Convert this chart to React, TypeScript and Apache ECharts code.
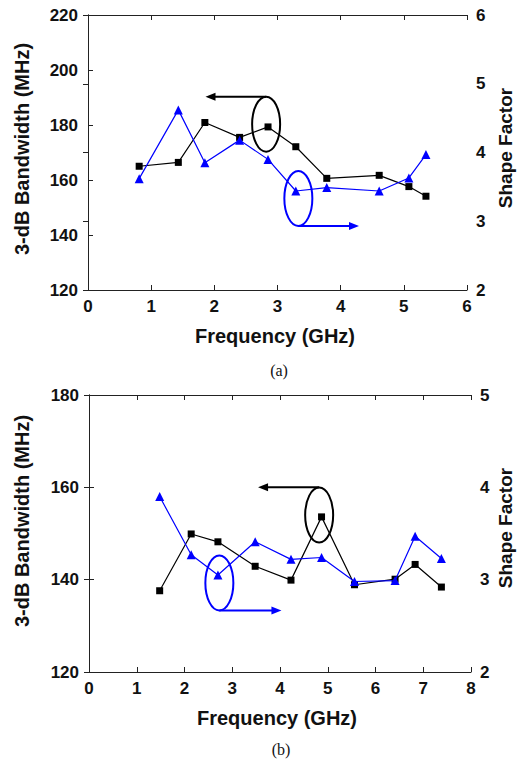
import React, { useEffect, useRef } from "react";
import * as echarts from "echarts";

// ---- Data: chart (a) ----
const freqA = [0.81, 1.43, 1.85, 2.4, 2.85, 3.29, 3.78, 4.61, 5.08, 5.35];
const bwA = [165.0, 166.4, 180.9, 175.5, 179.3, 172.1, 160.6, 161.7, 157.6, 154.1];
const sfA = [3.62, 4.62, 3.85, 4.18, 3.9, 3.44, 3.49, 3.44, 3.63, 3.97];

// ---- Data: chart (b) ----
const freqB = [1.48, 2.14, 2.7, 3.48, 4.23, 4.87, 5.56, 6.41, 6.83, 7.38];
const bwB = [137.6, 149.9, 148.2, 142.9, 139.9, 153.6, 138.9, 140.1, 143.3, 138.4];
const sfB = [3.9, 3.27, 3.05, 3.41, 3.22, 3.24, 2.98, 2.99, 3.47, 3.23];

// Annotation anchors in data coordinates (left-axis units): ellipse center, arrow y, arrow tip x
const annA = {
  black: { cx: 2.82, cy: 180.3, ay: 190.3, tip: 1.86 },
  blue: { cx: 3.33, cy: 153.3, ay: 143.3, tip: 4.29 },
};
const annB = {
  black: { cx: 4.82, cy: 154.0, ay: 160.0, tip: 3.54 },
  blue: { cx: 2.73, cy: 139.3, ay: 133.3, tip: 4.03 },
};

const FONT = "'Liberation Sans', Arial, sans-serif";
const AX = "#222";
const TICK_FS = 17;
const TITLE_FS = 20;

function pairs(xs: number[], ys: number[]) {
  return xs.map((x, i) => [x, ys[i]]);
}

function xAxes(gridIndex: number, max: number) {
  return [
    {
      type: "value",
      gridIndex,
      min: 0,
      max,
      interval: 1,
      position: "bottom",
      axisLine: { show: true, lineStyle: { color: AX, width: 1 } },
      axisTick: { show: true, inside: true, length: 5, lineStyle: { color: AX } },
      axisLabel: { color: "#111", fontFamily: FONT, fontWeight: "bold", fontSize: TICK_FS, margin: 8 },
      splitLine: { show: false },
    },
    {
      type: "value",
      gridIndex,
      min: 0,
      max,
      interval: 1,
      position: "top",
      axisLine: { show: true, lineStyle: { color: AX, width: 1 } },
      axisTick: { show: true, inside: true, length: 5, lineStyle: { color: AX } },
      axisLabel: { show: false },
      splitLine: { show: false },
    },
  ];
}

function yAxes(gridIndex: number, lmin: number, lmax: number, rmin: number, rmax: number) {
  const common = {
    type: "value",
    gridIndex,
    axisLine: { show: true, lineStyle: { color: AX, width: 1 } },
    axisTick: { show: true, inside: true, length: 5, lineStyle: { color: AX } },
    splitLine: { show: false },
  };
  return [
    {
      ...common,
      min: lmin,
      max: lmax,
      interval: 20,
      position: "left",
      axisLabel: { color: "#111", fontFamily: FONT, fontWeight: "bold", fontSize: TICK_FS, margin: 10 },
    },
    {
      ...common,
      min: rmin,
      max: rmax,
      interval: 1,
      position: "right",
      axisLabel: { color: "#111", fontFamily: FONT, fontWeight: "bold", fontSize: TICK_FS, margin: 9 },
    },
  ];
}

function lineSeries(xi: number, yi: number, data: number[][], color: string, symbol: string, size: number) {
  return {
    type: "line",
    xAxisIndex: xi,
    yAxisIndex: yi,
    data,
    symbol,
    symbolSize: size,
    showSymbol: true,
    lineStyle: { color, width: 1.2 },
    itemStyle: { color },
    z: symbol === "rect" ? 3 : 4,
  };
}

function rotText(text: string, x: number, y: number, rot: number, fs: number) {
  return {
    type: "text",
    x,
    y,
    rotation: rot,
    style: {
      text,
      fill: "#111",
      font: `bold ${fs}px ${FONT}`,
      textAlign: "center",
      textVerticalAlign: "middle",
    },
  };
}

function plainText(text: string, x: number, y: number, font: string) {
  return {
    type: "text",
    x,
    y,
    style: { text, fill: "#111", font, textAlign: "center", textVerticalAlign: "middle" },
  };
}

export default function App() {
  const ref = useRef<HTMLDivElement>(null);

  useEffect(() => {
    if (!ref.current) return;
    const chart = echarts.init(ref.current, undefined, { renderer: "svg" });

    const option: any = {
      animation: false,
      backgroundColor: "#fff",
      grid: [
        { left: 88, top: 15, width: 379, height: 275, show: false },
        { left: 89, top: 395, width: 382, height: 277, show: false },
      ],
      xAxis: [...xAxes(0, 6), ...xAxes(1, 8)],
      yAxis: [...yAxes(0, 120, 220, 2, 6), ...yAxes(1, 120, 180, 2, 5)],
      series: [
        lineSeries(0, 0, pairs(freqA, bwA), "#000", "rect", 7),
        lineSeries(0, 1, pairs(freqA, sfA), "#0000ff", "triangle", 9),
        lineSeries(2, 2, pairs(freqB, bwB), "#000", "rect", 7),
        lineSeries(2, 3, pairs(freqB, sfB), "#0000ff", "triangle", 9),
      ],
    };
    chart.setOption(option);

    const annGraphics = (ann: any, xi: number, yi: number) => {
      const out: any[] = [];
      const rx = 14;
      const ry = 27.5;
      const mk = (a: any, color: string, dir: number) => {
        const c = chart.convertToPixel({ xAxisIndex: xi, yAxisIndex: yi }, [a.cx, a.cy]) as number[];
        const s = chart.convertToPixel({ xAxisIndex: xi, yAxisIndex: yi }, [a.cx, a.ay]) as number[];
        const t = chart.convertToPixel({ xAxisIndex: xi, yAxisIndex: yi }, [a.tip, a.ay]) as number[];
        out.push({
          type: "ellipse",
          shape: { cx: c[0], cy: c[1], rx, ry },
          style: { fill: "none", stroke: color, lineWidth: 2 },
          z: 10,
        });
        const headLen = 10;
        out.push({
          type: "line",
          shape: { x1: s[0], y1: s[1], x2: t[0] - dir * headLen * 0.6, y2: s[1] },
          style: { stroke: color, lineWidth: 2 },
          z: 10,
        });
        out.push({
          type: "polygon",
          shape: {
            points: [
              [t[0], s[1]],
              [t[0] - dir * headLen, s[1] - 4],
              [t[0] - dir * headLen, s[1] + 4],
            ],
          },
          style: { fill: color },
          z: 10,
        });
      };
      mk(ann.black, "#000", -1);
      mk(ann.blue, "#0000ff", 1);
      return out;
    };

    const graphics: any[] = [
      ...annGraphics(annA, 0, 0),
      ...annGraphics(annB, 2, 2),
      rotText("3-dB Bandwidth (MHz)", 22, 149, Math.PI / 2, TITLE_FS),
      rotText("Shape Factor", 505, 148, Math.PI / 2, 19),
      rotText("3-dB Bandwidth (MHz)", 22, 521, Math.PI / 2, TITLE_FS),
      rotText("Shape Factor", 505, 528, Math.PI / 2, 19),
      plainText("Frequency (GHz)", 275, 336, `bold ${TITLE_FS}px ${FONT}`),
      plainText("Frequency (GHz)", 277, 718, `bold ${TITLE_FS}px ${FONT}`),
      plainText("(a)", 279, 370, `16px 'Liberation Serif', 'Times New Roman', serif`),
      plainText("(b)", 281, 749, `16px 'Liberation Serif', 'Times New Roman', serif`),
    ];
    chart.setOption({ graphic: graphics });

    return () => chart.dispose();
  }, []);

  return (
    <div
      ref={ref}
      style={{ position: "fixed", left: 0, top: 0, width: 518, height: 762, background: "#fff" }}
    />
  );
}
